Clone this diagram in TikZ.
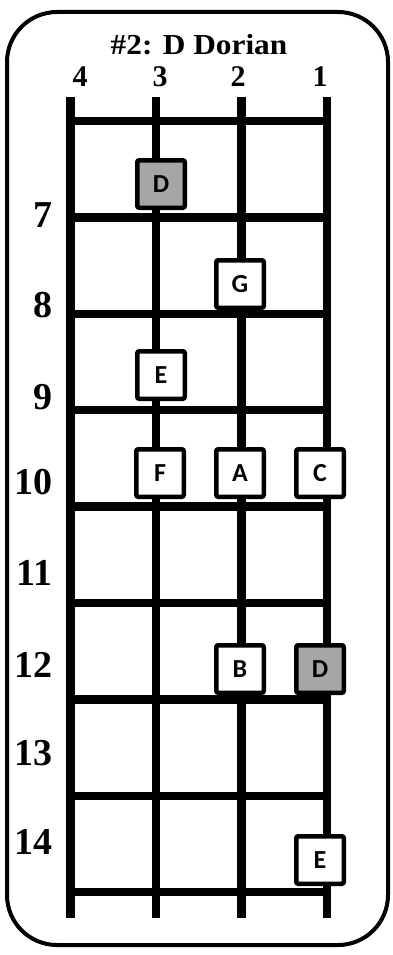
\documentclass[tikz,border=0pt]{standalone}
\usepackage{fontspec}
\setmainfont{Liberation Serif}
\newfontfamily\notefont{Carlito}
\usetikzlibrary{positioning}

\begin{document}
\begin{tikzpicture}[x=1pt, y=-1pt,
    frame/.style={draw=black, line width=4pt, rounded corners=50pt},
    gstring/.style={draw=black, line width=8.5pt},
    fretline/.style={draw=black, line width=8.5pt},
    title/.style={font=\bfseries\fontsize{29}{29}\selectfont, inner sep=0pt},
    strnum/.style={font=\bfseries\fontsize{30}{30}\selectfont, inner sep=0pt},
    fretnum/.style={anchor=east, font=\bfseries\fontsize{38}{38}\selectfont, inner sep=0pt},
    note/.style={rectangle, draw=black, line width=4.5pt, fill=white, rounded corners=2pt, minimum size=47.5pt, inner sep=0pt, font=\notefont\bfseries\fontsize{26}{26}\selectfont},
    root/.style={note, fill=gray!70}
]
    \useasboundingbox (0,0) rectangle (393,955);

    % --- Frame and title ---
    \draw [frame] (7,12) rectangle (388,945);
    \node [title] (heading) at (199,45) {\scalebox{1.08}[1]{\#2: D Dorian}};

    % --- String numbers ---
    \node [strnum] (s4) at (80,77) {4};
    \node [strnum] (s3) at (160,77) {3};
    \node [strnum] (s2) at (238,77) {2};
    \node [strnum] (s1) at (320,77) {1};

    % --- Strings ---
    \coordinate (s4top) at (70.5,97);  \coordinate (s4bot) at (70.5,918);
    \coordinate (s3top) at (156,97);   \coordinate (s3bot) at (156,918);
    \coordinate (s2top) at (241.5,97); \coordinate (s2bot) at (241.5,918);
    \coordinate (s1top) at (327,97);   \coordinate (s1bot) at (327,918);
    \path [gstring] (s4top) -- (s4bot);
    \path [gstring] (s3top) -- (s3bot);
    \path [gstring] (s2top) -- (s2bot);
    \path [gstring] (s1top) -- (s1bot);

    % --- Frets ---
    \path [fretline] (70.5,121) -- (327,121);
    \path [fretline] (70.5,217.4) -- (327,217.4);
    \path [fretline] (70.5,313.8) -- (327,313.8);
    \path [fretline] (70.5,410.2) -- (327,410.2);
    \path [fretline] (70.5,506.6) -- (327,506.6);
    \path [fretline] (70.5,603) -- (327,603);
    \path [fretline] (70.5,699.4) -- (327,699.4);
    \path [fretline] (70.5,795.8) -- (327,795.8);
    \path [fretline] (70.5,892.2) -- (327,892.2);

    % --- Fret numbers ---
    \node [fretnum] (f7) at (53,215) {7};
    \node [fretnum] (f8) at (53,305) {8};
    \node [fretnum] (f9) at (53,397) {9};
    \node [fretnum] (f10) at (53,482) {10};
    \node [fretnum] (f11) at (53,573) {11};
    \node [fretnum] (f12) at (53,665) {12};
    \node [fretnum] (f13) at (53,753) {13};
    \node [fretnum] (f14) at (53,842) {14};

    % --- Scale notes ---
    \node [root] (d7) at (161,184) {D};
    \node [note] (g8) at (240,284) {G};
    \node [note] (e9) at (161,375) {E};
    \node [note] (f10n) at (160,473) {F};
    \node [note] (a10) at (240,473) {A};
    \node [note] (c10) at (320,473) {C};
    \node [note] (b12) at (240,669) {B};
    \node [root] (d12) at (320,669) {D};
    \node [note] (e14) at (320,860) {E};

\end{tikzpicture}
\end{document}
